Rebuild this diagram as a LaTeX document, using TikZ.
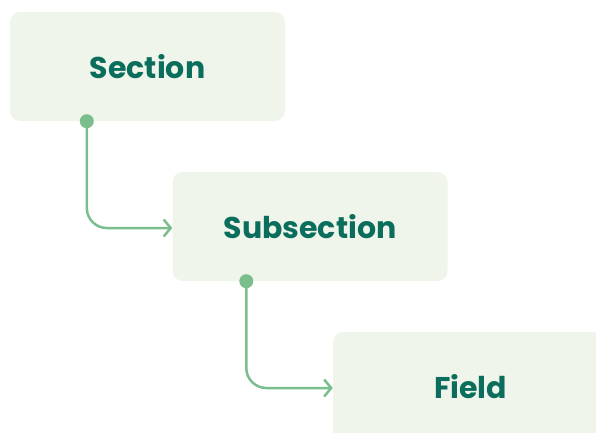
\documentclass[tikz,border=0pt]{standalone}
\usepackage{xcolor}
\usepackage{fontspec}
\usepackage{tikz}
\usetikzlibrary{arrows.meta}
\newfontfamily\boxfont{Poppins}
\definecolor{boxfill}{HTML}{F0F5EB}
\definecolor{boxtext}{HTML}{0B6E5C}
\definecolor{linkgreen}{HTML}{7BBE8D}

\begin{document}
\begin{tikzpicture}[x=1pt,y=-1pt,
		level/.style={rectangle,rounded corners=10pt,fill=boxfill,minimum width=275pt,minimum height=109pt,
			font=\boxfont\bfseries\fontsize{30}{36}\selectfont,text=boxtext,inner sep=0pt},
		link/.style={linkgreen,line width=2.5pt,rounded corners=20pt,-{Straight Barb[length=7pt,width=17pt]}}]
		\useasboundingbox (0,0) rectangle (596,432);
		\begin{scope}
			\clip (0,0) rectangle (596,432);
			\node[level] (section) at (147.5,66.5) {Section};
			\node[level] (subsection) at (310,226.5) {Subsection};
			\node[level] (field) at (470.5,386.5) {Field};
		\end{scope}
		\coordinate (d1) at ([xshift=77pt]section.south west);
		\coordinate (d2) at ([xshift=74pt]subsection.south west);
		\draw[link] (d1) |- ([yshift=-1.5pt]subsection.west);
		\draw[link] (d2) |- ([yshift=-1.5pt]field.west);
		\fill[linkgreen] (d1) circle (7pt);
		\fill[linkgreen] (d2) circle (7pt);
	\end{tikzpicture}
\end{document}
